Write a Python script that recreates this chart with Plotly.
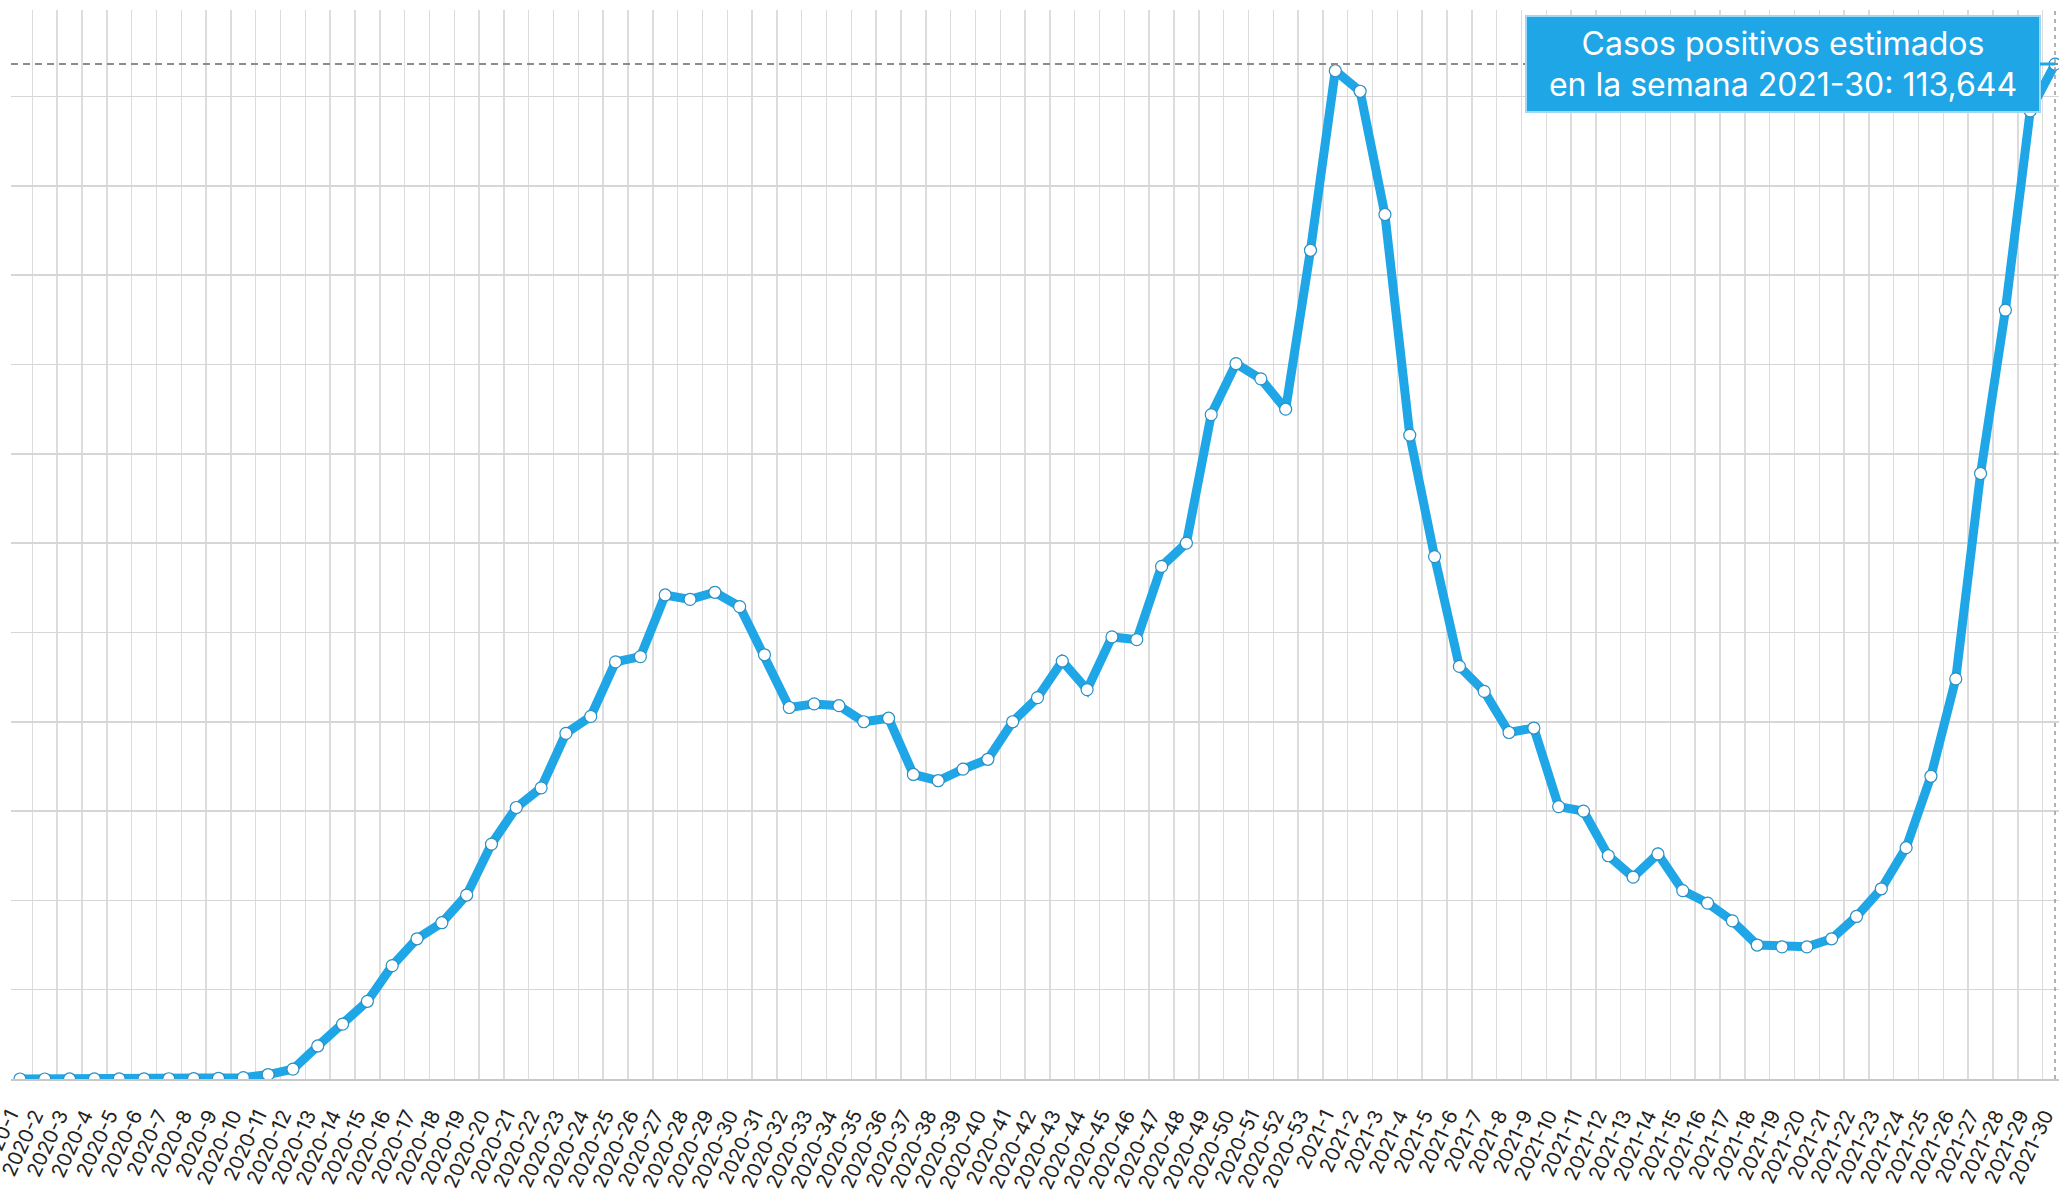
import plotly.graph_objects as go

# Weekly categories
weeks_2020 = [f"2020-{w}" for w in range(1, 54)]
weeks_2021 = [f"2021-{w}" for w in range(1, 31)]
categories = weeks_2020 + weeks_2021

cases_2020 = [
    0, 2, 5, 8, 12, 18, 30, 45, 80, 150,
    500, 1100, 3700, 6150, 8700, 12700, 15700, 17500, 20600, 26300,
    30400, 32600, 38700, 40600, 46700, 47300, 54200, 53700, 54500, 52900,
    47500, 41600, 42000, 41800, 40000, 40400, 34100, 33400, 34700, 35800,
    40000, 42700, 46800, 43600, 49500, 49200, 57400, 60000, 74400, 80100,
    78400, 75000, 92800,
]
cases_2021 = [
    112900, 110600, 96800, 72100, 58500, 46200, 43400, 38800, 39300, 30500,
    30000, 25000, 22600, 25200, 21100, 19700, 17700, 15000, 14800, 14800,
    15700, 18200, 21300, 25900, 33900, 44800, 67800, 86100, 108400, 113644,
]
cases = cases_2020 + cases_2021

highlight_week = "2021-30"
highlight_value = 113644
tooltip_text = f"Casos positivos estimados<br>en la semana {highlight_week}: {highlight_value:,}"

BLUE = "#1fa6e6"
FONT = "Inter"

fig = go.Figure()
fig.add_trace(go.Scatter(
    x=categories,
    y=cases,
    mode="lines+markers",
    line=dict(color=BLUE, width=9),
    marker=dict(size=12, color="white", line=dict(color="#2a8fc4", width=1.2)),
    hoverinfo="skip",
))

n = len(categories)
fig.update_layout(
    width=2059,
    height=1199,
    margin=dict(l=11, r=0, t=10, b=120, autoexpand=False),
    paper_bgcolor="white",
    plot_bgcolor="white",
    showlegend=False,
    hovermode=False,
    font=dict(family=FONT, color="#222222"),
    xaxis=dict(
        type="category",
        range=[-0.36, n - 1 + 0.16],
        tickson="boundaries",
        dtick=1,
        automargin=False,
        showgrid=True,
        gridcolor="#dcdcdc",
        gridwidth=1.5,
        ticks="",
        tickangle=-65,
        tickfont=dict(family=FONT, size=20, color="#222222"),
        ticklabelstandoff=15,
        ticklabelshift=-10,
        showline=True,
        linecolor="#c8c8c8",
        linewidth=2,
        zeroline=False,
        fixedrange=True,
    ),
    yaxis=dict(
        range=[0, 119700],
        dtick=10000,
        automargin=False,
        showgrid=True,
        gridcolor="#d6d6d6",
        gridwidth=1.5,
        showticklabels=False,
        zeroline=False,
        showline=False,
        fixedrange=True,
    ),
    shapes=[
        dict(type="line", xref="paper", yref="y", x0=0, x1=1,
             y0=highlight_value, y1=highlight_value,
             line=dict(color="#8c8c8c", width=2, dash="7px,5px"), layer="above"),
        dict(type="line", xref="x", yref="paper", x0=highlight_week, x1=highlight_week,
             y0=0, y1=1,
             line=dict(color="#9a9a9a", width=1.5, dash="4px,4px"), layer="above"),
    ],
    annotations=[
        dict(
            x=highlight_week, y=highlight_value, xref="x", yref="y",
            text=tooltip_text,
            showarrow=True, arrowhead=0, arrowwidth=3, arrowcolor=BLUE,
            ax=-272, ay=0, standoff=0, startstandoff=0,
            bgcolor=BLUE, bordercolor="#9fd8f5", borderwidth=2, borderpad=6,
            width=500, height=82,
            align="center", valign="middle",
            font=dict(family=FONT, size=32, color="white"),
        )
    ],
)

fig.write_html(
    "out.html",
    config={"displayModeBar": False, "staticPlot": True},
    post_script="document.body.style.margin='0';document.body.style.overflow='hidden';",
)
